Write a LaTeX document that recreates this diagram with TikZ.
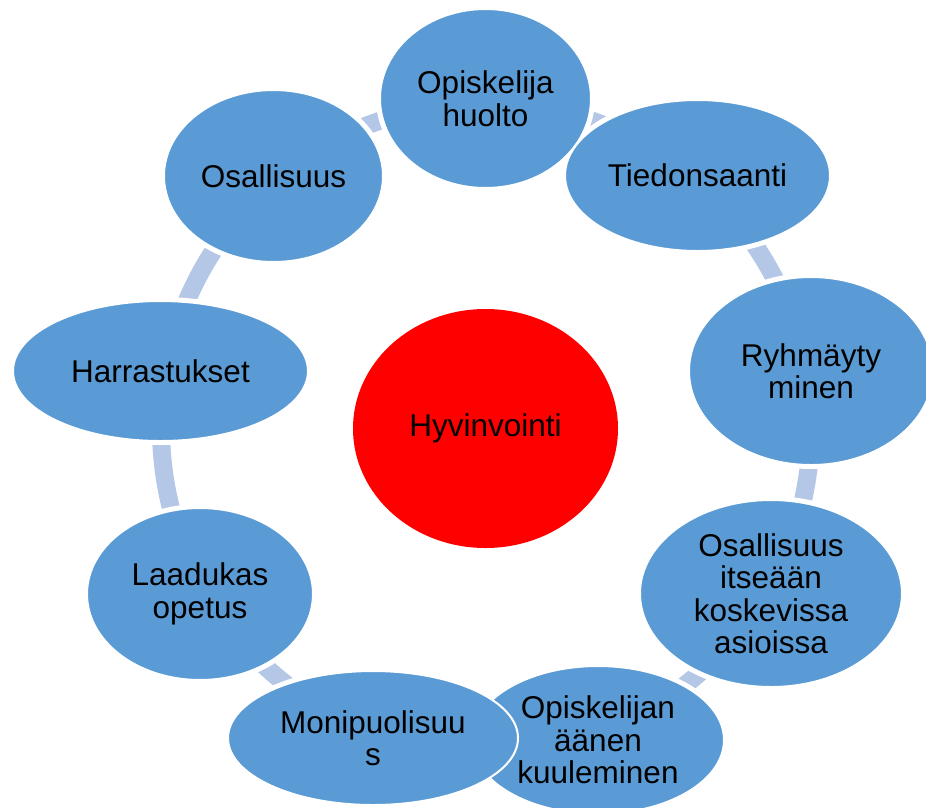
\documentclass[tikz,border=0pt]{standalone}
\usepackage{fontspec}
\setmainfont{Liberation Sans}
\usetikzlibrary{shapes.geometric}
\definecolor{blobblue}{HTML}{5B9BD5}
\definecolor{ringblue}{HTML}{B4C7E7}
\pgfdeclarelayer{ringl}
\pgfdeclarelayer{halol}
\pgfsetlayers{ringl,halol,main}
\tikzset{
  lbl/.style={font=\fontsize{31.5}{32.5}\selectfont, align=center, text=black},
  blob/.style={ellipse, fill=blobblue, draw=white, line width=2pt, inner sep=0pt, lbl},
  hub/.style={ellipse, fill=red, inner sep=0pt, lbl},
  ringstyle/.style={circle, draw=ringblue, line width=18pt, inner sep=0pt, minimum size=650pt},
  halo/.style={fill=white}
}
\newcommand{\myblob}[6]{%
  \begin{pgfonlayer}{halol}
    \fill[halo] (#2,#3) ellipse [x radius=#4+4, y radius=#5+4];
  \end{pgfonlayer}
  \node[blob, minimum width=2*#4 pt, minimum height=2*#5 pt] (#1) at (#2,#3) {#6};
}
\begin{document}
\begin{tikzpicture}[x=1pt,y=-1pt]
\useasboundingbox (0,0) rectangle (926,807);
\begin{pgfonlayer}{ringl}
  \node[ringstyle] (ring) at (486,428) {};
\end{pgfonlayer}
\myblob{n1}{485.5}{98.5}{105.5}{89.5}{Opiskelija\\huolto}
\myblob{n2}{697.5}{175.5}{132.5}{75.5}{Tiedonsaanti}
\myblob{n3}{811}{371}{122}{94}{Ryhmäyty\\minen}
\myblob{n4}{771}{593.5}{131}{93.5}{Osallisuus\\itseään\\koskevissa\\asioissa}
\myblob{n5}{598}{740}{126}{74}{Opiskelijan\\äänen\\kuuleminen}
\myblob{n6}{373}{738}{145}{67}{Monipuolisuu\\s}
\myblob{n7}{200}{594}{113}{86}{Laadukas\\opetus}
\myblob{n8}{160.5}{371}{147.5}{70}{Harrastukset}
\myblob{n9}{273.5}{176}{109.5}{86}{Osallisuus}
\node[hub, minimum width=265pt, minimum height=239pt] (hyv) at (485.5,428.5) {Hyvinvointi};
\end{tikzpicture}
\end{document}
